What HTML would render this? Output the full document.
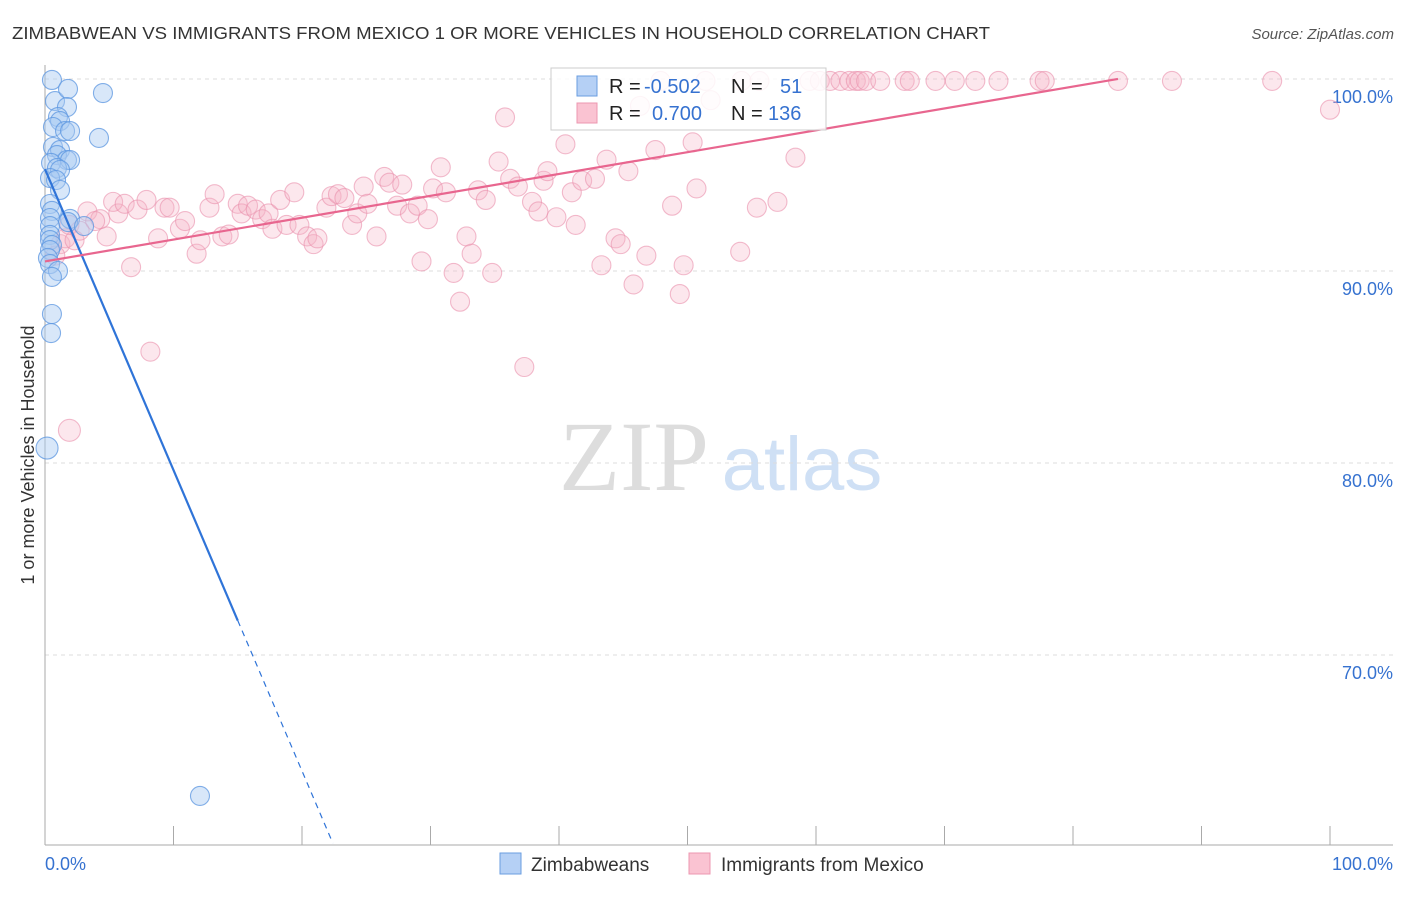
<!DOCTYPE html>
<html><head><meta charset="utf-8"><style>
body{margin:0;background:#fff;font-family:"Liberation Sans",sans-serif}
</style></head><body>
<svg width="1406" height="892" xmlns="http://www.w3.org/2000/svg" font-family="Liberation Sans, sans-serif">
<text x="12" y="39" font-size="17.5" fill="#333" textLength="978" lengthAdjust="spacingAndGlyphs">ZIMBABWEAN VS IMMIGRANTS FROM MEXICO 1 OR MORE VEHICLES IN HOUSEHOLD CORRELATION CHART</text>
<text x="1394" y="39" font-size="15" fill="#555" font-style="italic" text-anchor="end">Source: ZipAtlas.com</text>
<text x="634" y="490" font-size="100" fill="#ddd" font-family="Liberation Serif, serif" text-anchor="middle">ZIP</text>
<text x="802" y="490" font-size="76" fill="#cfe0f5" text-anchor="middle">atlas</text>
<g id="grid"></g>
<g id="axes"></g>
<g id="pts"></g>
<g id="trend"></g>
<text x="34" y="455" font-size="18" fill="#333" text-anchor="middle" transform="rotate(-90 34 455)">1 or more Vehicles in Household</text>
<g>
<rect x="551" y="68" width="275" height="62" fill="#fff" fill-opacity="0.85" stroke="#ccc"/>
<rect x="577" y="76" width="20" height="20" fill="#b5d0f5" stroke="#6a9ee0"/>
<rect x="577" y="103" width="20" height="20" fill="#fac3d2" stroke="#ec97b0"/>
<text x="609" y="93" font-size="20" fill="#222">R =</text>
<text x="644" y="93" font-size="20" fill="#3672d0">-0.502</text>
<text x="731" y="93" font-size="20" fill="#222">N =</text>
<text x="780" y="93" font-size="20" fill="#3672d0">51</text>
<text x="609" y="120" font-size="20" fill="#222">R =</text>
<text x="652" y="120" font-size="20" fill="#3672d0">0.700</text>
<text x="731" y="120" font-size="20" fill="#222">N =</text>
<text x="768" y="120" font-size="20" fill="#3672d0">136</text>
</g>
<g>
<rect x="500" y="853" width="21" height="21" fill="#b5d0f5" stroke="#6a9ee0"/>
<text x="531" y="871" font-size="19" fill="#333">Zimbabweans</text>
<rect x="689" y="853" width="21" height="21" fill="#fac3d2" stroke="#ec97b0"/>
<text x="721" y="871" font-size="19" fill="#333">Immigrants from Mexico</text>
</g>
<text x="45" y="870" font-size="18" fill="#3672d0">0.0%</text>
<text x="1393" y="870" font-size="18" fill="#3672d0" text-anchor="end">100.0%</text>
</svg>
<script>
const yTicks=[100,90,80,70];
const yTickLabels=["100.0%","90.0%","80.0%","70.0%"];
const xTicks=[0,10,20,30,40,50,60,70,80,90,100];
const zimX=[0.54,0.78,1.79,4.51,1.71,1.01,1.17,0.62,1.56,1.95,4.2,0.62,1.17,0.93,1.71,1.95,0.47,0.93,1.17,0.39,0.86,1.17,0.39,0.54,0.39,1.95,1.79,0.39,3.04,0.39,0.39,0.54,0.39,0.23,0.39,1.01,0.54,0.54,0.47,0.16,12.06];
const zimY=[99.95,98.85,99.48,99.27,98.54,98.02,97.81,97.5,97.29,97.29,96.93,96.46,96.3,96.04,95.78,95.78,95.63,95.36,95.26,94.84,94.74,94.22,93.49,93.13,92.76,92.71,92.55,92.34,92.34,91.88,91.61,91.35,91.09,90.68,90.36,90.0,89.69,87.76,86.77,80.78,62.66];
const mexX=[1.9,8.2,6.7,4.8,5.7,3.3,4.3,5.3,6.2,7.2,7.9,8.8,9.3,9.7,10.5,10.9,11.8,12.1,12.8,13.2,13.8,14.3,15.0,15.3,15.8,16.4,16.9,17.4,17.7,18.3,18.8,19.4,19.8,20.4,20.9,21.2,21.9,22.3,22.8,23.3,23.9,24.3,24.8,25.1,25.8,26.4,26.8,27.4,27.8,28.4,29.0,29.3,29.8,30.2,30.8,31.2,31.8,32.3,32.8,33.2,33.7,34.3,34.8,35.3,35.8,36.2,36.8,37.3,37.9,38.4,38.8,39.1,39.8,40.5,41.0,41.3,41.8,42.8,43.3,43.7,44.4,44.8,45.4,45.8,46.3,46.8,47.5,47.9,48.8,49.4,49.7,50.4,50.7,51.4,51.8,54.1,54.2,55.4,55.6,57.0,58.4,59.5,60.3,61.1,61.9,62.6,63.1,63.4,63.9,65.0,66.9,67.3,69.3,70.8,72.4,74.2,77.4,77.8,83.5,87.7,95.5,100,1.2,1.6,2.3,1.9,3.9,0.8,2.7];
const mexY=[81.7,85.8,90.2,91.8,93.0,93.1,92.7,93.6,93.5,93.2,93.7,91.7,93.3,93.3,92.2,92.6,90.9,91.6,93.3,94.0,91.8,91.9,93.5,93.0,93.4,93.2,92.7,93.0,92.2,93.7,92.4,94.1,92.4,91.8,91.4,91.7,93.3,93.9,94.0,93.8,92.4,93.0,94.4,93.5,91.8,94.9,94.6,93.4,94.5,93.0,93.4,90.5,92.7,94.3,95.4,94.1,89.9,88.4,91.8,90.9,94.2,93.7,89.9,95.7,98.0,94.8,94.4,85.0,93.6,93.1,94.7,95.2,92.8,96.6,94.1,92.4,94.7,94.8,90.3,95.8,91.7,91.4,95.2,89.3,98.6,90.8,96.3,99.9,93.4,88.8,90.3,96.7,94.3,99.9,98.9,91.0,99.9,93.3,99.9,93.6,95.9,99.9,99.9,99.9,99.9,99.9,99.9,99.9,99.9,99.9,99.9,99.9,99.9,99.9,99.9,99.9,99.9,99.9,99.9,99.9,99.9,98.4,91.4,91.7,91.6,92.4,92.6,90.8,92.1];
const zimTrend=[95.3,-1.567];
const mexTrend=[90.5,0.1138];
const NS="http://www.w3.org/2000/svg";
const X=v=>45+v*12.85, Y=v=>79+(100-v)*19.2;
function mk(t,a,p){const e=document.createElementNS(NS,t);for(const k in a)e.setAttribute(k,a[k]);p.appendChild(e);return e;}
const grid=document.getElementById('grid'),axes=document.getElementById('axes'),pts=document.getElementById('pts'),tr=document.getElementById('trend');
yTicks.forEach((t,i)=>{
 const l=mk('line',{x1:45,x2:1393,y1:Y(t),y2:Y(t),stroke:'#ddd','stroke-dasharray':'4,4'},grid);
 
 
 const tx=mk('text',{x:1393,y:Y(t)+24,'font-size':18,fill:'#3672d0','text-anchor':'end'},grid);
 tx.textContent=yTickLabels[i];
 
 
});
mk('line',{x1:45,x2:45,y1:65,y2:845,stroke:'#aaa'},axes);
mk('line',{x1:45,x2:1393,y1:845,y2:845,stroke:'#aaa'},axes);
xTicks.forEach(t=>{const l=mk('line',{x1:X(t),x2:X(t),y1:826,y2:845,stroke:'#aaa'},axes);
 
 });
mexX.forEach((x,i)=>{const c=mk('circle',{cx:X(x),cy:Y(mexY[i]),r:(i==0?11:9.5),fill:'#f7b3c6','fill-opacity':0.32,stroke:'#ea8fab','stroke-opacity':0.6,'stroke-width':1.1},pts);
 
 });
zimX.forEach((x,i)=>{const c=mk('circle',{cx:X(x),cy:Y(zimY[i]),r:(zimY[i]<81&&zimY[i]>80?11:9.5),fill:'#a9c9f2','fill-opacity':0.45,stroke:'#5b95e0','stroke-opacity':0.75,'stroke-width':1.1},pts);
 
 });
const zy=x=>zimTrend[0]+zimTrend[1]*x, my=x=>mexTrend[0]+mexTrend[1]*x;
let a=mk('line',{x1:X(0),y1:Y(zy(0)),x2:X(15),y2:Y(zy(15)),stroke:'#2f74d8','stroke-width':2.2},tr);


let b=mk('line',{x1:X(15),y1:Y(zy(15)),x2:X(22.4),y2:Y(zy(22.4)),stroke:'#2f74d8','stroke-width':1.2,'stroke-dasharray':'6,5'},tr);


let c=mk('line',{x1:X(0),y1:Y(my(0)),x2:X(83.5),y2:Y(my(83.5)),stroke:'#e8668f','stroke-width':2.2},tr);


</script>
</body></html>
